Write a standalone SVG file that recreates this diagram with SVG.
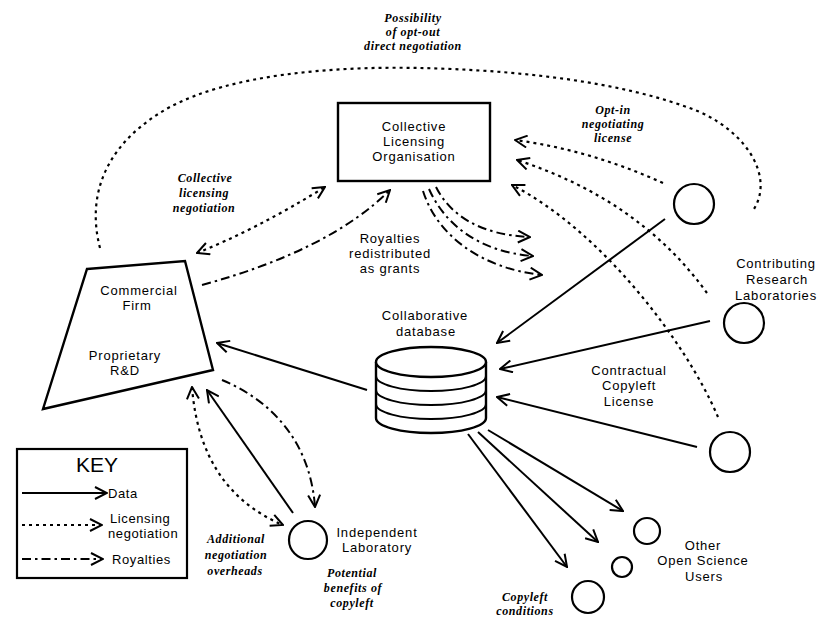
<svg xmlns="http://www.w3.org/2000/svg" width="818" height="619" viewBox="0 0 818 619">
<style>
.bg{fill:#fff}
.shape{fill:#fff;stroke:#000;stroke-width:2.4}
.circ{fill:none;stroke:#000;stroke-width:2.2}
.data{fill:none;stroke:#000;stroke-width:2}
.lic{fill:none;stroke:#000;stroke-width:2.2;stroke-dasharray:3 4}
.roy{fill:none;stroke:#000;stroke-width:2;stroke-dasharray:9 4 2.5 4}
.head{fill:none;stroke:#000;stroke-width:2;stroke-dasharray:none}
.lbl{font-family:"Liberation Sans",Arial,Helvetica,sans-serif;font-size:13px;letter-spacing:0.8px;fill:#000;text-anchor:middle}
.key{font-family:"Liberation Sans",Arial,Helvetica,sans-serif;font-size:13px;letter-spacing:0.6px;fill:#000}
.ann{font-family:"Liberation Serif","Times New Roman",serif;font-style:italic;font-weight:bold;font-size:12px;fill:#000;text-anchor:middle;letter-spacing:0.6px}
</style>
<defs>
<marker id="ah" viewBox="0 0 14 14" refX="13" refY="7" markerWidth="14" markerHeight="14" markerUnits="userSpaceOnUse" orient="auto-start-reverse">
<path class="head" d="M1,1 L13,7 L1,13"/>
</marker>
</defs>
<rect class="bg" x="0" y="0" width="818" height="619"/>

<g id="connectors">
<path class="lic" d="M100,248 C85,190 110,140 170,107 C230,75 330,66 420,68 S620,80 700,112 C750,135 775,180 752,212"/>
<path class="lic" d="M197,253 Q255,230 325,187" marker-start="url(#ah)" marker-end="url(#ah)"/>
<path class="roy" d="M202,285 Q330,250 390,190" marker-end="url(#ah)"/>
<path class="roy" d="M436,187 C450,215 480,235 530,237" marker-end="url(#ah)"/>
<path class="roy" d="M429,189 C445,225 480,252 533,256" marker-end="url(#ah)"/>
<path class="roy" d="M423,191 C437,235 480,268 542,275" marker-end="url(#ah)"/>
<path class="lic" d="M663,183 Q590,150 515,140" marker-end="url(#ah)"/>
<path class="lic" d="M707,293 Q640,200 517,160" marker-end="url(#ah)"/>
<path class="lic" d="M718,417 C685,340 600,230 512,185" marker-end="url(#ah)"/>
<path class="data" d="M665,219 L497,343" marker-end="url(#ah)"/>
<path class="data" d="M710,321 L500,369" marker-end="url(#ah)"/>
<path class="data" d="M697,447 L497,397" marker-end="url(#ah)"/>
<path class="data" d="M367,390 L217,343" marker-end="url(#ah)"/>
<path class="data" d="M488,430 L623,511" marker-end="url(#ah)"/>
<path class="data" d="M478,432 L598,542" marker-end="url(#ah)"/>
<path class="data" d="M468,434 L567,567" marker-end="url(#ah)"/>
<path class="data" d="M293,513 L207,390" marker-end="url(#ah)"/>
<path class="lic" d="M192,387 Q200,490 283,525" marker-start="url(#ah)" marker-end="url(#ah)"/>
<path class="roy" d="M222,380 C270,400 310,440 315,507" marker-end="url(#ah)"/>
</g>

<g id="clo">
<rect class="shape" x="338" y="103" width="152" height="78"/>
<text class="lbl" x="414" y="131">Collective</text>
<text class="lbl" x="414" y="146">Licensing</text>
<text class="lbl" x="414" y="161">Organisation</text>
</g>

<g id="commercial-firm">
<polygon class="shape" points="87,269 185,261 213,370 43,409"/>
<text class="lbl" x="139" y="295">Commercial</text>
<text class="lbl" x="137" y="310">Firm</text>
<text class="lbl" x="125" y="360">Proprietary</text>
<text class="lbl" x="125" y="375">R&amp;D</text>
</g>

<g id="database">
<path class="shape" d="M376,362 V418 A55,15 0 0 0 486,418 V362"/>
<ellipse class="shape" cx="431" cy="362" rx="55" ry="15"/>
<path class="data" d="M376,376 A55,15 0 0 0 486,376 M376,390 A55,15 0 0 0 486,390 M376,404 A55,15 0 0 0 486,404"/>
<text class="lbl" x="425" y="320">Collaborative</text>
<text class="lbl" x="426" y="336">database</text>
</g>

<g id="contributing-labs">
<circle class="circ" cx="694" cy="204" r="20"/>
<circle class="circ" cx="744" cy="323" r="20"/>
<circle class="circ" cx="730" cy="452" r="20"/>
<text class="lbl" x="776" y="268">Contributing</text>
<text class="lbl" x="777" y="284">Research</text>
<text class="lbl" x="776" y="300">Laboratories</text>
</g>

<g id="other-users">
<circle class="circ" cx="647" cy="531" r="13"/>
<circle class="circ" cx="622" cy="567" r="10"/>
<circle class="circ" cx="588" cy="597" r="16"/>
<text class="lbl" x="703" y="550">Other</text>
<text class="lbl" x="703" y="565">Open Science</text>
<text class="lbl" x="704" y="581">Users</text>
</g>

<g id="independent-lab">
<circle class="circ" cx="308" cy="540" r="19"/>
<text class="lbl" x="377" y="537">Independent</text>
<text class="lbl" x="377" y="552">Laboratory</text>
</g>

<g id="annotations">
<text class="ann" x="413" y="22">Possibility</text>
<text class="ann" x="413" y="36">of opt-out</text>
<text class="ann" x="413" y="50">direct negotiation</text>
<text class="ann" x="205" y="182">Collective</text>
<text class="ann" x="204" y="197">licensing</text>
<text class="ann" x="204" y="212">negotiation</text>
<text class="ann" x="613" y="114">Opt-in</text>
<text class="ann" x="613" y="128">negotiating</text>
<text class="ann" x="613" y="142">license</text>
<text class="lbl" x="390" y="243">Royalties</text>
<text class="lbl" x="390" y="258">redistributed</text>
<text class="lbl" x="390" y="273">as grants</text>
<text class="lbl" x="629" y="375">Contractual</text>
<text class="lbl" x="629" y="390">Copyleft</text>
<text class="lbl" x="629" y="406">License</text>
<text class="ann" x="236" y="543">Additional</text>
<text class="ann" x="236" y="559">negotiation</text>
<text class="ann" x="235" y="575">overheads</text>
<text class="ann" x="352" y="577">Potential</text>
<text class="ann" x="353" y="592">benefits of</text>
<text class="ann" x="352" y="607">copyleft</text>
<text class="ann" x="525" y="601">Copyleft</text>
<text class="ann" x="525" y="615">conditions</text>
</g>

<g id="key">
<rect x="17" y="449" width="170" height="129" fill="#fff" stroke="#000" stroke-width="2.2"/>
<text x="97" y="472" font-family="Liberation Sans, Arial, sans-serif" font-size="21" text-anchor="middle">KEY</text>
<path class="data" d="M22,493 H107" marker-end="url(#ah)"/>
<text class="key" x="108" y="498">Data</text>
<path class="lic" d="M22,525 H102" marker-end="url(#ah)"/>
<text class="key" x="110" y="523">Licensing</text>
<text class="key" x="108" y="538">negotiation</text>
<path class="roy" d="M22,559 H103" marker-end="url(#ah)"/>
<text class="key" x="112" y="564">Royalties</text>
</g>
</svg>
